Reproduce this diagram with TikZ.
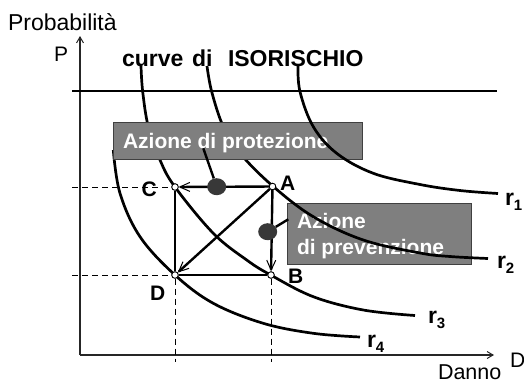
\documentclass[tikz,border=0pt]{standalone}
\usepackage{fontspec}
\setmainfont{Liberation Sans}
\usetikzlibrary{arrows.meta,shapes.geometric}
\newcommand\myfs[1]{\fontsize{#1bp}{#1bp}\selectfont}
\definecolor{boxgray}{HTML}{7F7F7F}
\definecolor{boxedge}{HTML}{404040}
\definecolor{dotgray}{HTML}{383838}
\begin{document}
\begin{tikzpicture}[x=1bp,y=-1bp,
  txt/.style={inner sep=0pt, outer sep=0pt, anchor=base west},
  curv/.style={line width=2.7bp},
  axisline/.style={line width=1.3bp, draw=black!85, -{Straight Barb[length=6bp,width=7bp,line width=1bp]}},
  arr/.style={line width=2.4bp, -{Straight Barb[length=10bp,width=9bp,line width=1bp]}},
  sqline/.style={line width=2.4bp},
  dsh/.style={line width=1bp, dash pattern=on 6bp off 4bp},
  ptdot/.style={circle, draw, fill=white, inner sep=0pt, minimum size=6.5bp, line width=0.8bp},
  bigdot/.style={ellipse, fill=dotgray, inner sep=0pt, minimum width=19bp, minimum height=17bp},
  graybox/.style={fill=boxgray, draw=boxedge, line width=0.9bp},
  lnk/.style={line width=2.4bp}]
\useasboundingbox (0,0) rectangle (524,383);

% axes
\coordinate (O) at (80,355);
\coordinate (Ytop) at (80,36);
\coordinate (Xend) at (494,355);
\draw[axisline] (O) -- (Ytop);
\draw[axisline] (O) -- (Xend);
\node[txt] (prob) at (8,30) {\fontsize{23bp}{25bp}\selectfont\mdseries Probabilità};
\node[txt] (P) at (54,61) {\fontsize{21bp}{24bp}\selectfont\mdseries P};
\node[txt] (danno) at (438,379.5) {\fontsize{21.5bp}{24bp}\selectfont\mdseries Danno};
\node[txt] (Dax) at (510,367) {\fontsize{21bp}{24bp}\selectfont\mdseries D};

% title
\node[txt] (t1) at (122,66) {\myfs{23}\bfseries curve};
\node[txt] (t2) at (192,66) {\myfs{23}\bfseries di};
\node[txt] (t3) at (228,66) {\myfs{23}\bfseries ISORISCHIO};

% horizontal line
\coordinate (hl1) at (72,91);
\coordinate (hl2) at (497,91);
\draw[line width=2bp] (hl1) -- (hl2);

% points
\node[ptdot] (A) at (272.5,186.5) {};
\node[ptdot] (B) at (271,275) {};
\node[ptdot] (C) at (175,187) {};
\node[ptdot] (D) at (175,275) {};

% dashed guides
\coordinate (dc) at (72,187);
\coordinate (dd) at (72,275);
\coordinate (dD) at (175,362);
\coordinate (dB) at (271,362);
\draw[dsh] (dc) -- (C);
\draw[dsh] (dd) -- (D);
\draw[dsh] (D) -- (dD);
\draw[dsh] (B) -- (dB);

% prevention box (below curve r2)
\node[graybox, minimum width=184.5bp, minimum height=61bp, anchor=north west, inner sep=0pt] (prevbox) at (286.7,202.7) {};
\node[txt, text=white] (prevt1) at (297,228) {\myfs{21}\bfseries Azione};
\node[txt, text=white] (prevt2) at (297,254) {\myfs{21}\bfseries di prevenzione};

% curves r2, r3, r4
\draw[curv] plot[smooth, tension=0.6] coordinates {(207,66) (211.7,91.7) (223.3,126.7) (240,153.3) (272.7,186) (313.3,216.7) (363.3,240) (420,253) (450,256.5) (488,258.5)};
\draw[curv] plot[smooth, tension=0.6] coordinates {(141,66) (142.7,91.7) (148.3,126.7) (160,160) (175,187) (213.3,233.3) (246.7,260) (270.7,275) (313.3,296.7) (363.3,310) (415,315.5)};
\draw[curv] plot[smooth, tension=0.6] coordinates {(113.3,150) (120,193.3) (140,236.7) (175,275) (213.3,303.3) (263.3,323.3) (313.3,333.3) (360,337)};

% protection box
\node[graybox, minimum width=248.5bp, minimum height=36.5bp, anchor=north west, inner sep=0pt] (protbox) at (113.3,122.3) {};
\node[txt, text=white] (prott) at (123,148) {\myfs{21}\bfseries Azione di protezione};

% curve r1 (over the box)
\draw[curv] plot[smooth, tension=0.6] coordinates {(298,66) (300,91.7) (313.3,126.7) (336.7,153.3) (373.3,173.3) (420,184.5) (460,190.5) (498,193.5)};

% redraw points over curves
\node[ptdot] at (A) {};
\node[ptdot] at (B) {};
\node[ptdot] at (C) {};
\node[ptdot] at (D) {};

% square and arrows
\draw[sqline] (C) -- (D);
\draw[sqline] (D) -- (B);
\draw[arr] (A) -- (C);
\draw[arr] (A) -- (B);
\draw[arr] (A) -- (D);

% big dots and links
\node[bigdot] (d1) at (216.7,186.7) {};
\node[bigdot] (d2) at (267.7,231.7) {};
\coordinate (l1) at (203.3,148.3);
\coordinate (l2) at (288.3,219.3);
\draw[lnk] (d1) -- (l1);
\draw[lnk] (d2) -- (l2);

% point labels
\node[txt] (lC) at (141.5,196.5) {\myfs{21}\bfseries C};
\node[txt] (lA) at (280,190.5) {\myfs{21}\bfseries A};
\node[txt] (lB) at (288,283.5) {\myfs{21}\bfseries B};
\node[txt] (lD) at (150,300.5) {\myfs{21}\bfseries D};

% curve labels
\node[txt] (r1) at (505,205) {\myfs{23}\bfseries r\raisebox{-5bp}{\myfs{15}1}};
\node[txt] (r2) at (497,268) {\myfs{23}\bfseries r\raisebox{-5bp}{\myfs{15}2}};
\node[txt] (r3) at (428,323) {\myfs{23}\bfseries r\raisebox{-5bp}{\myfs{15}3}};
\node[txt] (r4) at (367,347) {\myfs{23}\bfseries r\raisebox{-5bp}{\myfs{15}4}};
\end{tikzpicture}
\end{document}
